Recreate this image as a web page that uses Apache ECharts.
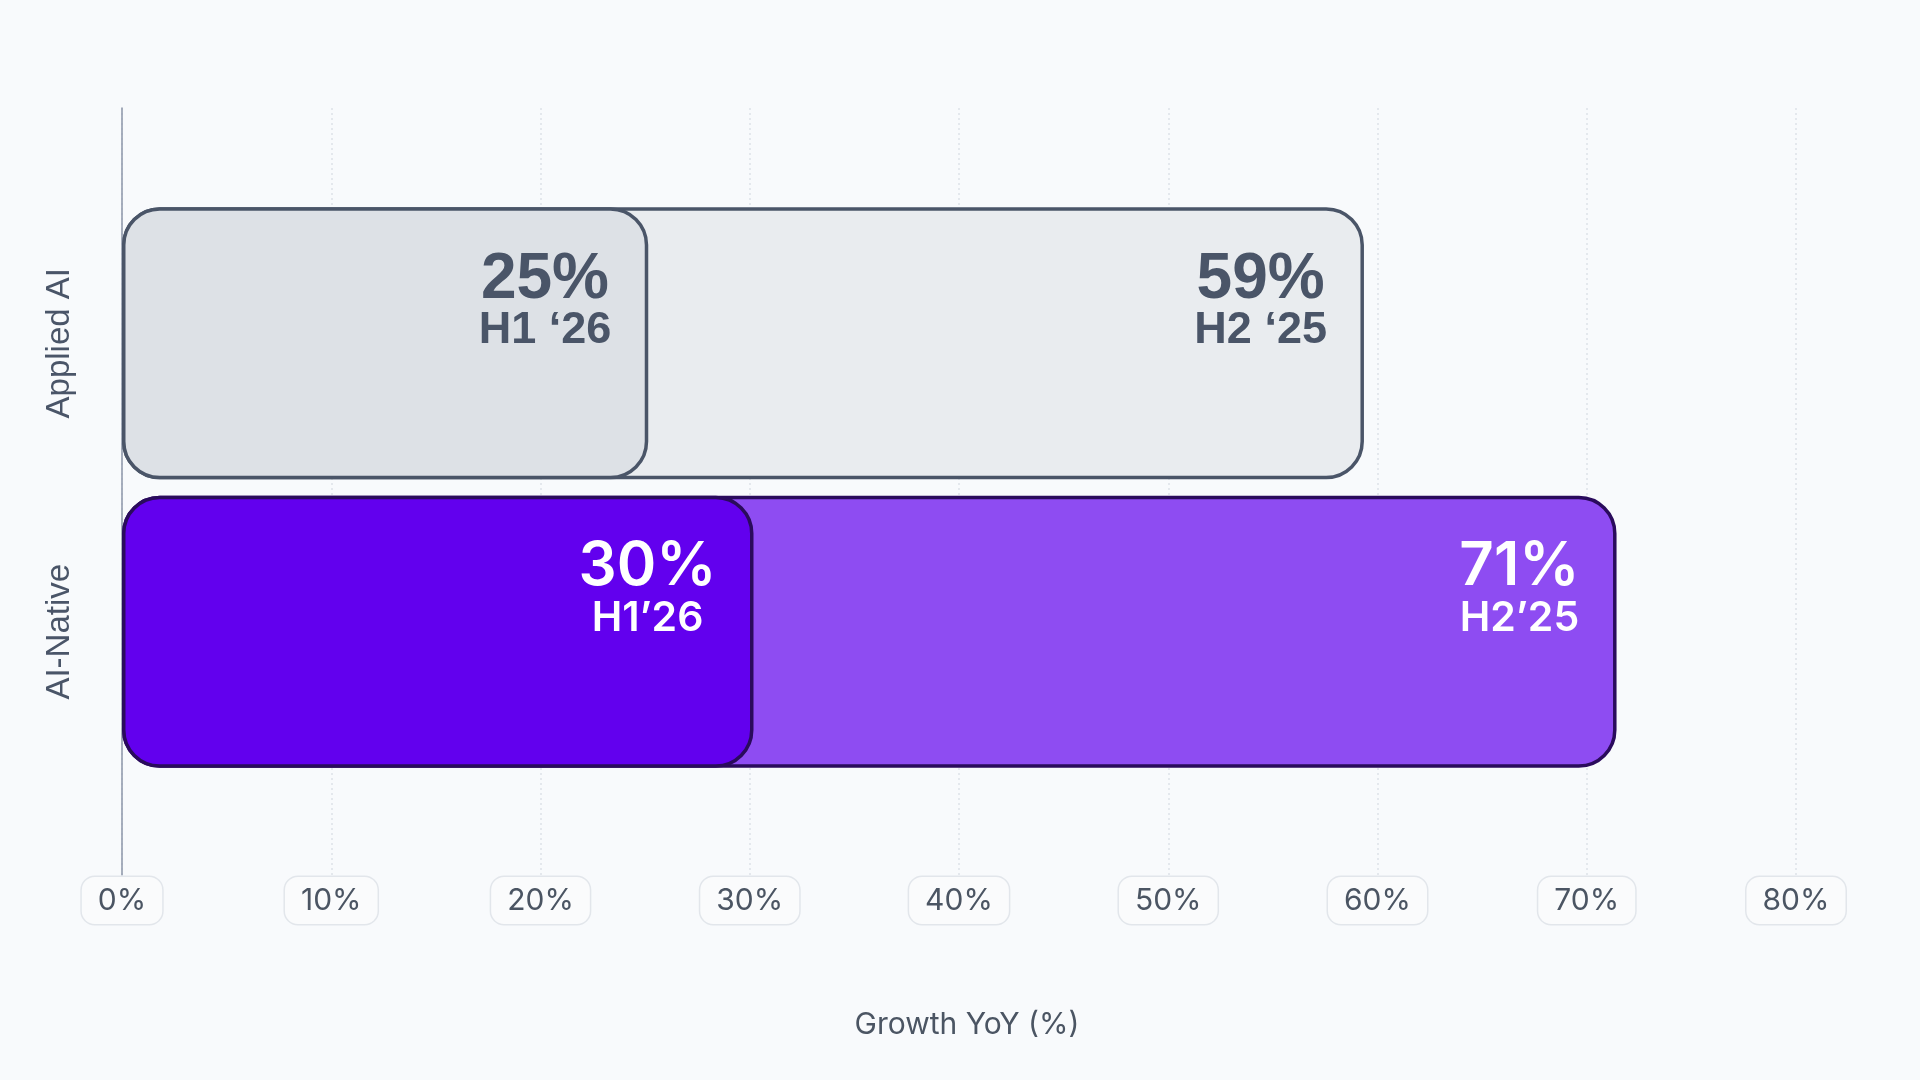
<!DOCTYPE html>
<html>
<head>
<meta charset="utf-8">
<script src="https://cdn.jsdelivr.net/npm/echarts@6/dist/echarts.min.js"></script>
<style>
    html, body { margin: 0; padding: 0; background: #f8fafc; }
    #tu1 { width: 1920px; height: 1080px; }
</style>
</head>
<body>
<div id="tu1"></div>
<script>
var categories = ['Applied AI', 'AI-Native'];
var h2Values = [59, 71];
var h1Values = [25, 30];
var h2Tags = ['H2 \u201825', 'H2\u201925'];
var h1Tags = ['H1 \u201826', 'H1\u201926'];
var xTicks = [0, 10, 20, 30, 40, 50, 60, 70, 80];

// one look per category: [Applied AI, AI-Native]
var edge = ['#4a5568', '#2a0b5c'];
var h1Fill = ['#dde1e6', '#6200ee'];
var h2Fill = ['#e9ecef', '#8e4cf2'];
var numKey = ['a', 'c'];
var tagKey = ['b', 'd'];

var myChart1 = echarts.init(document.getElementById('tu1'));

function barData(values, fills) {
    return values.map(function (v, i) {
        return {
            value: v,
            itemStyle: { color: fills[i], borderColor: edge[i] }
        };
    });
}

function barLabel(tags) {
    return {
        show: true,
        position: 'insideTopRight',
        distance: 37,
        formatter: function (p) {
            var i = p.dataIndex;
            return '{' + numKey[i] + '|' + p.value + '%}\n{' + tagKey[i] + '|' + tags[i] + '}';
        },
        rich: {
            a: { fontFamily: 'Liberation Sans', fontWeight: 'bold', fontSize: 64, lineHeight: 73, color: '#4a5568', align: 'center' },
            b: { fontFamily: 'Liberation Sans', fontWeight: 'bold', fontSize: 45, lineHeight: 27, color: '#4a5568', align: 'center' },
            c: { fontFamily: 'Inter', fontWeight: 600, fontSize: 60, lineHeight: 69, color: '#ffffff', align: 'center' },
            d: { fontFamily: 'Inter', fontWeight: 600, fontSize: 41, lineHeight: 33, color: '#ffffff', align: 'center' }
        }
    };
}

var option1 = {
    backgroundColor: '#f8fafc',
    animation: false,
    grid: [
        { left: 122, right: 124, top: 108, bottom: 205, outerBoundsMode: 'none' },
        // bar grid is a touch wider, as in the source picture
        { left: 122, right: 114, top: 199, bottom: 304, outerBoundsMode: 'none' }
    ],
    xAxis: [{
        gridIndex: 0,
        type: 'value',
        min: 0,
        max: 80,
        interval: 10,
        name: 'Growth YoY (%)',
        nameLocation: 'middle',
        nameGap: 135,
        nameTextStyle: {
            fontFamily: 'Inter',
            fontSize: 30,
            color: '#4b5563',
            padding: [0, 0, 0, 16]
        },
        axisLine: { show: false },
        axisTick: { show: false },
        axisLabel: {
            margin: 2,
            formatter: function (v) { return xTicks.indexOf(v) >= 0 ? v + '%' : ''; },
            fontFamily: 'Inter',
            fontSize: 30,
            color: '#4b5563',
            backgroundColor: '#fafbfc',
            borderColor: '#e2e6eb',
            borderWidth: 1.5,
            borderRadius: 13,
            padding: [9, 16, 8, 16]
        },
        splitLine: {
            show: true,
            lineStyle: { type: [2, 3], color: '#dde2e8', width: 1.5 }
        }
    }, {
        gridIndex: 1,
        type: 'value',
        min: 0,
        max: 80,
        show: false
    }],
    yAxis: [{
        gridIndex: 0,
        type: 'value',
        min: 0,
        max: 1,
        axisLine: { show: true, lineStyle: { color: '#8c96a8', width: 1.5 } },
        axisTick: { show: false },
        axisLabel: { show: false },
        splitLine: { show: false }
    }, {
        gridIndex: 1,
        type: 'category',
        inverse: true,
        data: categories,
        axisLine: { show: false },
        axisTick: { show: false },
        splitLine: { show: false },
        axisLabel: {
            rotate: 90,
            margin: 46,
            fontFamily: 'Liberation Sans',
            fontSize: 33,
            color: '#4a5568'
        }
    }],
    series: [{
        name: 'H2',
        type: 'bar',
        xAxisIndex: 1,
        yAxisIndex: 1,
        barWidth: 272,
        barGap: '-100%',
        itemStyle: { borderWidth: 3.5, borderRadius: 36 },
        label: barLabel(h2Tags),
        data: barData(h2Values, h2Fill)
    }, {
        name: 'H1',
        type: 'bar',
        xAxisIndex: 1,
        yAxisIndex: 1,
        barWidth: 272,
        barGap: '-100%',
        itemStyle: { borderWidth: 3.5, borderRadius: 36 },
        label: barLabel(h1Tags),
        data: barData(h1Values, h1Fill)
    }]
};

myChart1.setOption(option1);
</script>
</body>
</html>
